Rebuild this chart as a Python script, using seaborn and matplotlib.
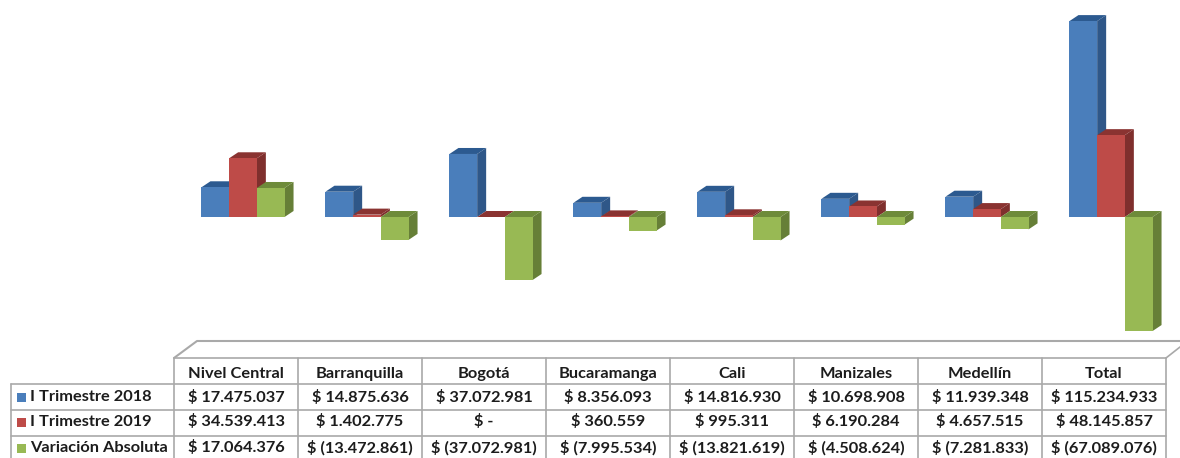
import matplotlib
matplotlib.use("Agg")
import matplotlib.pyplot as plt
import pandas as pd
import seaborn as sns
from matplotlib.patches import Polygon, Rectangle

# Data
cities = ["Nivel Central", "Barranquilla", "Bogotá", "Bucaramanga", "Cali",
          "Manizales", "Medellín", "Total"]
series_names = ["I Trimestre 2018", "I Trimestre 2019", "Variación Absoluta"]
trim_2018 = [17475037, 14875636, 37072981, 8356093, 14816930, 10698908, 11939348, 115234933]
trim_2019 = [34539413, 1402775, 0, 360559, 995311, 6190284, 4657515, 48145857]
variacion = [17064376, -13472861, -37072981, -7995534, -13821619, -4508624, -7281833, -67089076]

front_colors = ["#4A7EBB", "#BE4B48", "#98B954"]
side_colors = ["#2F5788", "#7F2F2D", "#667F37"]
top_colors = ["#2C5A90", "#8A3331", "#6E8B3A"]
line_color = "#A9A9A9"
text_color = "#1C1C1C"

W, H = 1180, 458
PX_PER_PESO = 1.7 / 1e6    # 196 px for the 115 M bar
BASE_Y = 217               # pixel row of the zero line
COL_W = 124
DEPTH_X, DEPTH_Y = 9, 6    # fake 3D depth in pixels
FONT = 11.8


def money(v):
    txt = f"{abs(v):,}".replace(",", ".")
    if v == 0:
        return "$ -"
    return f"$ ({txt})" if v < 0 else f"$ {txt}"


sns.set_theme(style="white")
plt.rcParams["font.family"] = ["Lato", "DejaVu Sans"]

df = pd.DataFrame({
    "ciudad": cities * 3,
    "serie": [s for s in series_names for _ in cities],
    "valor": trim_2018 + trim_2019 + variacion,
})

fig = plt.figure(figsize=(W / 100, H / 100), dpi=100)

# chart axes: 8 columns, shifted 7 px right of the table columns, like the original
ax = fig.add_axes([181 / W, (H - 340) / H, COL_W * 8 / W, 340 / H])
sns.barplot(data=df, x="ciudad", y="valor", hue="serie", order=cities,
            hue_order=series_names, palette=front_colors, width=0.67, gap=0,
            saturation=1, legend=False, linewidth=0, ax=ax)
ax.set_xlim(-0.5, 7.5)
ax.set_ylim(-(340 - BASE_Y) / PX_PER_PESO, BASE_Y / PX_PER_PESO)
ax.axis("off")

dx = DEPTH_X / COL_W
dy = DEPTH_Y / PX_PER_PESO
for i, cont in enumerate(ax.containers):
    for bar in cont:
        x0, x1 = bar.get_x(), bar.get_x() + bar.get_width()
        y0 = min(bar.get_y(), bar.get_y() + bar.get_height())
        y1 = max(bar.get_y(), bar.get_y() + bar.get_height())
        bar.set_zorder(3 + 2 * i)
        ax.add_patch(Polygon([(x1, y0), (x1 + dx, y0 + dy), (x1 + dx, y1 + dy), (x1, y1)],
                             closed=True, fc=side_colors[i], ec="none", zorder=2 + 2 * i))
        ax.add_patch(Polygon([(x0, y1), (x0 + dx, y1 + dy), (x1 + dx, y1 + dy), (x1, y1)],
                             closed=True, fc=top_colors[i], ec="none", zorder=2 + 2 * i))

# table overlay in pixel coordinates
tab = fig.add_axes([0, 0, 1, 1], facecolor="none")
tab.set_xlim(0, W)
tab.set_ylim(H, 0)
tab.axis("off")

col_x = [174 + COL_W * k for k in range(9)]
row_y = [358, 384, 410, 436, 458]
center_y = [374, 397, 422, 448]
lw = 1.2

# floor of the chart
tab.plot([174, 197, 1180], [358, 341, 341], color=line_color, lw=1.5)
tab.plot([1166, 1180], [358, 347], color=line_color, lw=1.2)

tab.plot([col_x[0], col_x[-1]], [row_y[0], row_y[0]], color=line_color, lw=lw)
for y in row_y[1:4]:
    tab.plot([11, col_x[-1]], [y, y], color=line_color, lw=lw)
for x in col_x:
    tab.plot([x, x], [row_y[0], H], color=line_color, lw=lw)
tab.plot([11, 11], [row_y[1], H], color=line_color, lw=lw)

for k, city in enumerate(cities):
    cx = col_x[k] + COL_W / 2
    tab.text(cx, center_y[0], city, ha="center", va="center", fontsize=FONT,
             fontweight="bold", color=text_color)
    for r, vals in enumerate([trim_2018, trim_2019, variacion]):
        tab.text(cx, center_y[r + 1], money(vals[k]), ha="center", va="center",
                 fontsize=FONT, fontweight="bold", color=text_color)

for r, name in enumerate(series_names):
    tab.add_patch(Rectangle((17, center_y[r + 1] - 4.5), 9, 9, fc=front_colors[r], ec="none"))
    tab.text(30, center_y[r + 1], name, ha="left", va="center", fontsize=FONT,
             fontweight="bold", color=text_color)

fig.savefig("out.png", dpi=100)
